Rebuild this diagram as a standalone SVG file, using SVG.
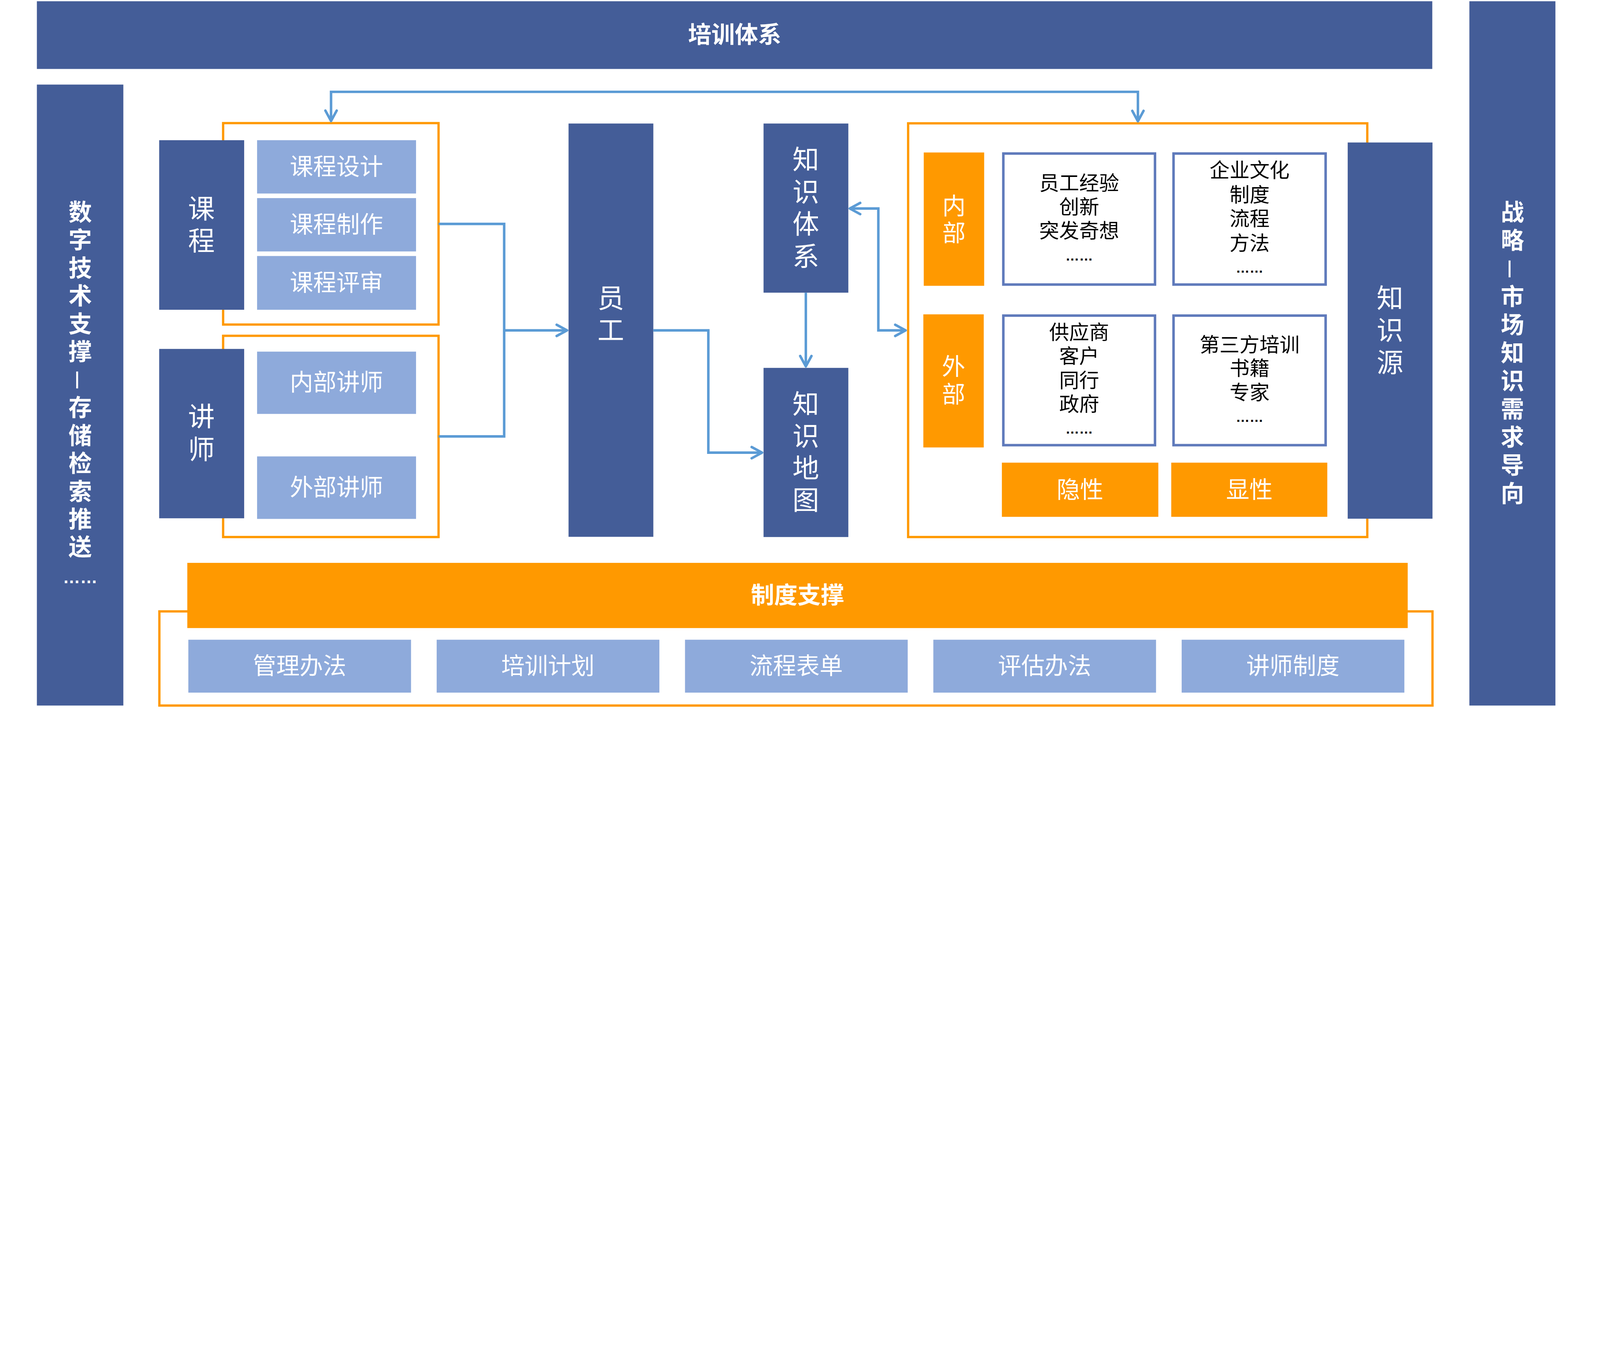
<svg xmlns="http://www.w3.org/2000/svg" width="7680" height="3456" viewBox="0 0 7680 3456" style="width:100vw;height:45vw">
<style>
.dk{fill:#445D98}
.lb{fill:#8EAADB}
.or{fill:#FF9900}
.obox{fill:none;stroke:#FF9900;stroke-width:11}
.wbox{fill:#FFFFFF;stroke:#5F7ABB;stroke-width:12}
text{font-family:"Liberation Sans","Noto Sans CJK SC",sans-serif;dominant-baseline:central;text-anchor:middle}
.cjk{font-family:"Noto Sans CJK SC",sans-serif}
.w{fill:#FFFFFF}
.k{fill:#000000}
.b{font-weight:bold}
.f112{font-size:112px}
.f128{font-size:128px}
.f96{font-size:96px}
.ell{font-family:"Liberation Sans",Arial,sans-serif;font-weight:bold;dominant-baseline:alphabetic}
.con{fill:none;stroke:#5B9BD5;stroke-width:12}
</style>
<defs>
<marker id="arr" markerUnits="userSpaceOnUse" viewBox="-70 -40 80 80" markerWidth="80" markerHeight="80" refX="0" refY="0" orient="auto-start-reverse" overflow="visible">
<path d="M-50,-27 L0,0 L-50,27" fill="none" stroke="#5B9BD5" stroke-width="12" stroke-linecap="round" stroke-linejoin="round"/>
</marker>
</defs>
<rect x="0" y="0" width="7680" height="3456" fill="#FFFFFF"/>

<g id="top-bar">
<rect class="dk" x="177" y="6" width="6698" height="325"/>
<text class="w b f112" x="3527" y="168">培训体系</text>
</g>

<g id="left-bar">
<rect class="dk" x="177" y="406" width="415" height="2981"/>
<text class="w b f112" x="385"><tspan x="385" y="1020">数</tspan><tspan x="385" y="1154">字</tspan><tspan x="385" y="1288">技</tspan><tspan x="385" y="1422">术</tspan><tspan x="385" y="1556">支</tspan><tspan x="385" y="1690">撑</tspan></text>
<text class="w b cjk" font-size="100" x="385" y="1824" transform="rotate(90 385 1824)">—</text>
<text class="w b f112" x="385"><tspan x="385" y="1958">存</tspan><tspan x="385" y="2092">储</tspan><tspan x="385" y="2226">检</tspan><tspan x="385" y="2360">索</tspan><tspan x="385" y="2494">推</tspan><tspan x="385" y="2628">送</tspan></text>
<text class="w ell" font-size="83" x="385" y="2800">……</text>
</g>

<g id="right-bar">
<rect class="dk" x="7053" y="6" width="413" height="3381"/>
<text class="w b f112" x="7260"><tspan x="7260" y="1021">战</tspan><tspan x="7260" y="1156">略</tspan></text>
<text class="w b cjk" font-size="100" x="7260" y="1291" transform="rotate(90 7260 1291)">—</text>
<text class="w b f112" x="7260"><tspan x="7260" y="1426">市</tspan><tspan x="7260" y="1561">场</tspan><tspan x="7260" y="1696">知</tspan><tspan x="7260" y="1831">识</tspan><tspan x="7260" y="1966">需</tspan><tspan x="7260" y="2101">求</tspan><tspan x="7260" y="2236">导</tspan><tspan x="7260" y="2371">向</tspan></text>
</g>

<g id="course-group">
<rect class="obox" x="1071" y="591" width="1034" height="967"/>
<rect class="dk" x="764" y="673" width="408" height="814"/>
<text class="w f128" x="967"><tspan x="967" y="1003">课</tspan><tspan x="967" y="1157">程</tspan></text>
</g>
<g id="course-design">
<rect class="lb" x="1234" y="673" width="763" height="256"/>
<text class="w f112" x="1615" y="801">课程设计</text>
</g>
<g id="course-make">
<rect class="lb" x="1234" y="951" width="763" height="256"/>
<text class="w f112" x="1615" y="1079">课程制作</text>
</g>
<g id="course-review">
<rect class="lb" x="1234" y="1229" width="763" height="258"/>
<text class="w f112" x="1615" y="1358">课程评审</text>
</g>

<g id="lecturer-group">
<rect class="obox" x="1071" y="1612" width="1034" height="966"/>
<rect class="dk" x="764" y="1675" width="408" height="813"/>
<text class="w f128" x="967"><tspan x="967" y="2001">讲</tspan><tspan x="967" y="2159">师</tspan></text>
</g>
<g id="internal-lecturer">
<rect class="lb" x="1234" y="1688" width="763" height="299"/>
<text class="w f112" x="1615" y="1837">内部讲师</text>
</g>
<g id="external-lecturer">
<rect class="lb" x="1234" y="2191" width="763" height="300"/>
<text class="w f112" x="1615" y="2341">外部讲师</text>
</g>

<g id="employee">
<rect class="dk" x="2729" y="593" width="407" height="1984"/>
<text class="w f128" x="2932"><tspan x="2932" y="1433">员</tspan><tspan x="2932" y="1586">工</tspan></text>
</g>

<g id="knowledge-system">
<rect class="dk" x="3665" y="593" width="407" height="812"/>
<text class="w f128" x="3868"><tspan x="3868" y="767">知</tspan><tspan x="3868" y="922">识</tspan><tspan x="3868" y="1077">体</tspan><tspan x="3868" y="1232">系</tspan></text>
</g>

<g id="knowledge-map">
<rect class="dk" x="3665" y="1766" width="407" height="812"/>
<text class="w f128" x="3868"><tspan x="3868" y="1940">知</tspan><tspan x="3868" y="2094">识</tspan><tspan x="3868" y="2248">地</tspan><tspan x="3868" y="2402">图</tspan></text>
</g>

<g id="knowledge-source-frame">
<rect class="obox" x="4359" y="592" width="2204" height="1986"/>
</g>
<g id="knowledge-source">
<rect class="dk" x="6469" y="684" width="407" height="1806"/>
<text class="w f128" x="6672"><tspan x="6672" y="1432">知</tspan><tspan x="6672" y="1587">识</tspan><tspan x="6672" y="1742">源</tspan></text>
</g>

<g id="internal">
<rect class="or" x="4434" y="732" width="290" height="640"/>
<text class="w f112" x="4579"><tspan x="4579" y="990">内</tspan><tspan x="4579" y="1120">部</tspan></text>
</g>
<g id="external">
<rect class="or" x="4432" y="1509" width="290" height="639"/>
<text class="w f112" x="4577"><tspan x="4577" y="1761">外</tspan><tspan x="4577" y="1894">部</tspan></text>
</g>

<g id="internal-tacit">
<rect class="wbox" x="4816" y="737" width="728" height="629"/>
<text class="k f96" x="5180"><tspan x="5180" y="880">员工经验</tspan><tspan x="5180" y="994">创新</tspan><tspan x="5180" y="1109">突发奇想</tspan></text>
<text class="k ell" font-size="66" x="5180" y="1251">……</text>
</g>
<g id="internal-explicit">
<rect class="wbox" x="5633" y="737" width="730" height="629"/>
<text class="k f96" x="5998"><tspan x="5998" y="818">企业文化</tspan><tspan x="5998" y="936">制度</tspan><tspan x="5998" y="1051">流程</tspan><tspan x="5998" y="1169">方法</tspan></text>
<text class="k ell" font-size="66" x="5998" y="1309">……</text>
</g>
<g id="external-tacit">
<rect class="wbox" x="4816" y="1515" width="728" height="622"/>
<text class="k f96" x="5180"><tspan x="5180" y="1596">供应商</tspan><tspan x="5180" y="1711">客户</tspan><tspan x="5180" y="1826">同行</tspan><tspan x="5180" y="1941">政府</tspan></text>
<text class="k ell" font-size="66" x="5180" y="2081">……</text>
</g>
<g id="external-explicit">
<rect class="wbox" x="5633" y="1515" width="730" height="622"/>
<text class="k f96" x="5998"><tspan x="5998" y="1655">第三方培训</tspan><tspan x="5998" y="1769">书籍</tspan><tspan x="5998" y="1884">专家</tspan></text>
<text class="k ell" font-size="66" x="5998" y="2026">……</text>
</g>
<g id="tacit">
<rect class="or" x="4809" y="2221" width="751" height="260"/>
<text class="w f112" x="5184" y="2352">隐性</text>
</g>
<g id="explicit">
<rect class="or" x="5622" y="2221" width="749" height="260"/>
<text class="w f112" x="5997" y="2352">显性</text>
</g>

<g id="policy-frame">
<rect class="obox" x="765" y="2935" width="6111" height="452"/>
</g>
<g id="policy-support">
<rect class="or" x="899" y="2702" width="5858" height="313"/>
<text class="w b f112" x="3828" y="2858">制度支撑</text>
</g>
<g id="policy-1">
<rect class="lb" x="904" y="3071" width="1069" height="254"/>
<text class="w f112" x="1438" y="3198">管理办法</text>
</g>
<g id="policy-2">
<rect class="lb" x="2096" y="3071" width="1069" height="254"/>
<text class="w f112" x="2630" y="3198">培训计划</text>
</g>
<g id="policy-3">
<rect class="lb" x="3288" y="3071" width="1069" height="254"/>
<text class="w f112" x="3822" y="3198">流程表单</text>
</g>
<g id="policy-4">
<rect class="lb" x="4480" y="3071" width="1069" height="254"/>
<text class="w f112" x="5014" y="3198">评估办法</text>
</g>
<g id="policy-5">
<rect class="lb" x="5672" y="3071" width="1069" height="254"/>
<text class="w f112" x="6206" y="3198">讲师制度</text>
</g>

<g id="connectors">
<path class="con" d="M1589,581 V441 H5462 V582" marker-start="url(#arr)" marker-end="url(#arr)"/>
<path class="con" d="M2105,1075 H2420 V2095 H2105"/>
<path class="con" d="M2420,1586 H2722" marker-end="url(#arr)"/>
<path class="con" d="M3136,1586 H3400 V2173 H3658" marker-end="url(#arr)"/>
<path class="con" d="M3868,1405 V1759" marker-end="url(#arr)"/>
<path class="con" d="M4079,1001 H4216 V1586 H4347" marker-start="url(#arr)" marker-end="url(#arr)"/>
</g>
</svg>
